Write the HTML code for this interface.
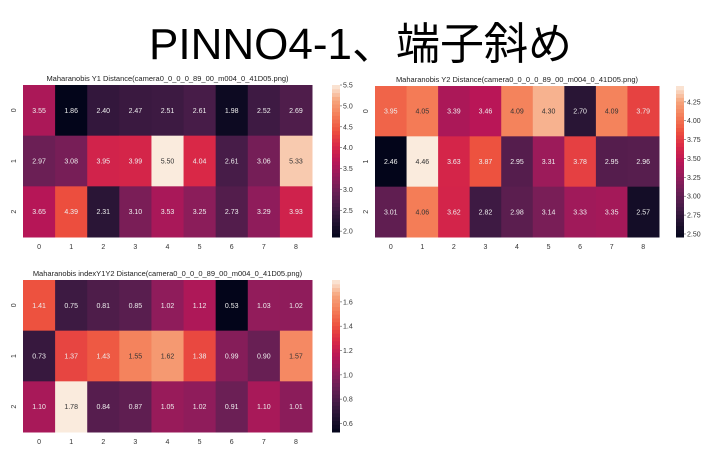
<!DOCTYPE html>
<html><head><meta charset="utf-8">
<style>
body{margin:0;background:#fff;width:721px;height:460px;overflow:hidden;font-family:"Liberation Sans","Noto Sans CJK JP",sans-serif}
#title{position:absolute;left:0;width:721px;top:8px;text-align:center;font-size:44px;color:#000}
svg{position:absolute;left:0;top:0}
</style></head><body>
<div id="title">PINNO4-1、端子斜め</div>
<svg id="s" width="721" height="460"></svg>
<script>
const xCats=["0","1","2","3","4","5","6","7","8"];
const yCats=["0","1","2"];
const y1Values=[[3.55,1.86,2.40,2.47,2.51,2.61,1.98,2.52,2.69],[2.97,3.08,3.95,3.99,5.50,4.04,2.61,3.06,5.33],[3.65,4.39,2.31,3.10,3.53,3.25,2.73,3.29,3.93]];
const y2Values=[[3.95,4.05,3.39,3.46,4.09,4.30,2.70,4.09,3.79],[2.46,4.46,3.63,3.87,2.95,3.31,3.78,2.95,2.96],[3.01,4.06,3.62,2.82,2.98,3.14,3.33,3.35,2.57]];
const y1y2Values=[[1.41,0.75,0.81,0.85,1.02,1.12,0.53,1.03,1.02],[0.73,1.37,1.43,1.55,1.62,1.38,0.99,0.90,1.57],[1.10,1.78,0.84,0.87,1.05,1.02,0.91,1.10,1.01]];
const y1Ticks=[2.0,2.5,3.0,3.5,4.0,4.5,5.0,5.5];
const y2Ticks=[2.50,2.75,3.00,3.25,3.50,3.75,4.00,4.25];
const y1y2Ticks=[0.6,0.8,1.0,1.2,1.4,1.6];
const stops=["#03051A","#221331","#451C47","#691F55","#921C5B","#B91657","#D92847","#ED503E","#F47D57","#F6A47B","#FAEBDD"];
function hx(h){return [1,3,5].map(i=>parseInt(h.substr(i,2),16));}
function cmap(t){t=Math.max(0,Math.min(1,t));const p=t*10,i=Math.min(9,Math.floor(p)),f=p-i;const a=hx(stops[i]),b=hx(stops[i+1]);return `rgb(${a.map((v,k)=>Math.round(v+(b[k]-v)*f)).join(',')})`;}
const NS="http://www.w3.org/2000/svg",svg=document.getElementById('s');
function el(t,at,txt){const e=document.createElementNS(NS,t);for(const k in at)e.setAttribute(k,at[k]);if(txt!==undefined)e.textContent=txt;svg.appendChild(e);return e;}
function heat(cfg){
 const {x0,x1,y0,y1,cb,data,ticks,title,name,dec}=cfg;
 const flat=data.flat(),vmin=Math.min(...flat),vmax=Math.max(...flat);
 const cw=(x1-x0)/xCats.length,ch=(y1-y0)/yCats.length;
 const xs=i=>x0+i*cw,ys=j=>y0+j*ch;
 let t=el('text',{x:(x0+x1)/2,y:y0-4,'font-size':7.5,'text-anchor':'middle',fill:'#222'},title);
 
 
 data.forEach((row,j)=>row.forEach((v,i)=>{
  const r=el('rect',{x:xs(i),y:ys(j),width:cw+0.5,height:ch+0.5,fill:cmap((v-vmin)/(vmax-vmin))});
  
  
  const tt=(v-vmin)/(vmax-vmin);
  const l=el('text',{x:xs(i)+cw/2,y:ys(j)+ch/2+2.5,'font-size':7,'text-anchor':'middle',fill:tt>0.75?'#333':'#eee'},v.toFixed(2));
  
  
 }));
 xCats.forEach((c,i)=>{const l=el('text',{x:xs(i)+cw/2,y:y1+12,'font-size':7,'text-anchor':'middle',fill:'#333'},c);
  
  });
 yCats.forEach((c,j)=>{const l=el('text',{x:x0-7,y:ys(j)+ch/2,'font-size':7,'text-anchor':'middle',fill:'#333',transform:`rotate(-90 ${x0-7} ${ys(j)+ch/2})`},c);
  
  });
 const n=40,h=(y1-y0)/n;
 for(let k=0;k<n;k++){const r=el('rect',{x:cb,y:y1-(k+1)*h,width:8,height:h+0.5,fill:cmap((k+0.5)/n)});
  
  }
 const cy=v=>y1-(v-vmin)/(vmax-vmin)*(y1-y0);
 ticks.forEach(v=>{el('line',{x1:cb+8,x2:cb+10,y1:cy(v),y2:cy(v),stroke:'#555','stroke-width':0.6});
  const l=el('text',{x:cb+11,y:cy(v)+2.5,'font-size':7,fill:'#333'},v.toFixed(dec));
  
  });
}
heat({x0:23,x1:312,y0:85,y1:237,cb:332,data:y1Values,ticks:y1Ticks,title:"Maharanobis Y1 Distance(camera0_0_0_0_89_00_m004_0_41D05.png)",name:"y1-heatmap",dec:1});
heat({x0:375,x1:659,y0:86,y1:237,cb:676,data:y2Values,ticks:y2Ticks,title:"Maharanobis Y2 Distance(camera0_0_0_0_89_00_m004_0_41D05.png)",name:"y2-heatmap",dec:2});
heat({x0:23,x1:312,y0:280,y1:432,cb:332,data:y1y2Values,ticks:y1y2Ticks,title:"Maharanobis indexY1Y2 Distance(camera0_0_0_0_89_00_m004_0_41D05.png)",name:"y1y2-heatmap",dec:1});
</script>
</body></html>
